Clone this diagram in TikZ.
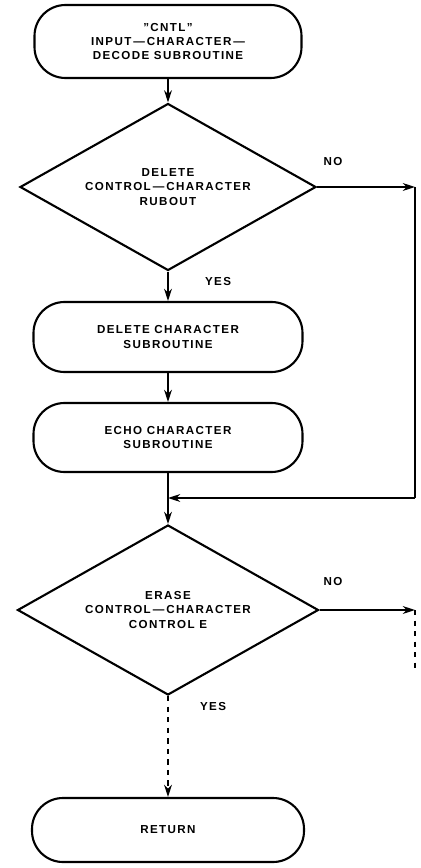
\documentclass[tikz,border=0pt]{standalone}
\usepackage{fontspec}
\setmainfont{Liberation Sans}[LetterSpace=12]
\usetikzlibrary{shapes.geometric,arrows.meta}
\begin{document}
\begin{tikzpicture}[x=0.02cm,y=-0.02cm,
  every node/.style={font=\fontsize{6.6}{8.2}\selectfont\bfseries, align=center, inner sep=0pt},
  term/.style={draw, line width=1.2pt, rounded corners=0.62cm, minimum width=#1*0.02cm},
  decide/.style={draw, diamond, line width=1.2pt, aspect=1.77},
  flow/.style={line width=0.8pt, -{Stealth[length=7pt,width=4.5pt]}},
  link/.style={line width=0.8pt},
  lbl/.style={font=\fontsize{6.6}{8}\selectfont\bfseries}]
\useasboundingbox (0,0) rectangle (421,868);

% process boxes
\node[term=267, minimum height=73*0.02cm] (start) at (168,41.5)
  {"CNTL"\\INPUT\,---\,CHARACTER\,---\\DECODE SUBROUTINE};
\node[decide, minimum width=296*0.02cm, minimum height=167*0.02cm] (del) at (168,187)
  {DELETE\\CONTROL\,---\,CHARACTER\\RUBOUT};
\node[term=269, minimum height=70*0.02cm] (delsub) at (168,337)
  {DELETE CHARACTER\\SUBROUTINE};
\node[term=269, minimum height=69*0.02cm] (echo) at (168,437.5)
  {ECHO CHARACTER\\SUBROUTINE};
\node[decide, minimum width=301*0.02cm, minimum height=170*0.02cm] (erase) at (168,610)
  {ERASE\\CONTROL\,---\,CHARACTER\\CONTROL E};
\node[term=272, minimum height=64*0.02cm] (ret) at (168,830) {RETURN};

% branch labels
\node[lbl] (no1) at (333,162) {NO};
\node[lbl] (yes1) at (218,282) {YES};
\node[lbl] (no2) at (333,582) {NO};
\node[lbl] (yes2) at (213,706) {YES};

% routing points
\coordinate (r2) at (415,498);
\coordinate (r1) at (del.east -| r2);
\coordinate (merge) at (echo.south |- r2);
\coordinate (r3) at (erase.east -| r2);
\coordinate (r4) at (415,670);

% connectors
\draw[flow] (start.south) -- (del.north);
\draw[flow] (del.south) -- (delsub.north);
\draw[flow] (delsub.south) -- (echo.north);
\draw[flow] (del.east) -- (r1);
\draw[link] (r1) -- (r2);
\draw[flow] (r2) -- (merge);
\draw[link] (echo.south) -- (merge);
\draw[flow] (merge) -- (erase.north);
\draw[flow] (erase.east) -- (r3);
\draw[link, dashed] (r3) -- (r4);
\draw[flow, dashed] (erase.south) -- (ret.north);
\end{tikzpicture}
\end{document}
